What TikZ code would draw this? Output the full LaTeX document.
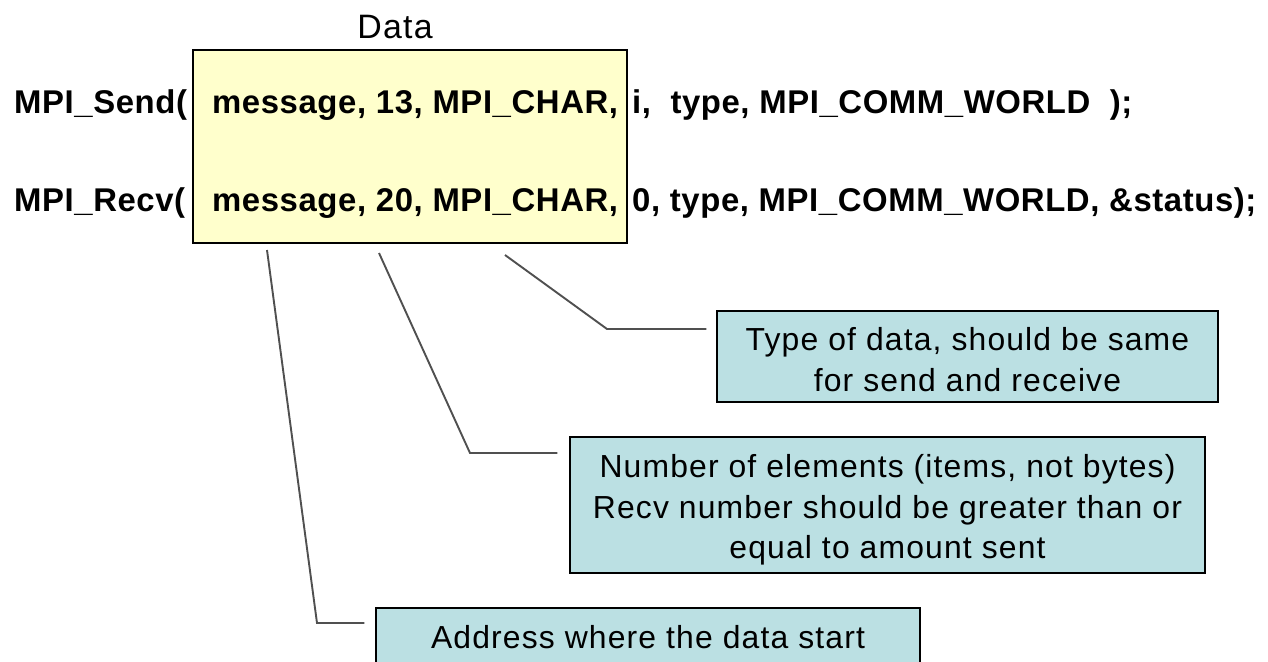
\documentclass[tikz,border=0pt]{standalone}
\usepackage{fontspec}
\setmainfont{Liberation Sans}
\newfontfamily\codefont[LetterSpace=1.8]{Liberation Sans}
\newfontfamily\notefont[LetterSpace=3.6]{Liberation Sans}
\definecolor{datafill}{HTML}{FFFFCC}
\definecolor{notefill}{HTML}{BBE0E3}
\definecolor{leader}{HTML}{505050}
\begin{document}
\begin{tikzpicture}[x=1bp,y=-1bp,
  code/.style={anchor=base west,inner sep=0pt,font=\codefont\fontsize{33}{40}\selectfont\bfseries},
  databox/.style={draw=black,line width=1.5bp,fill=datafill,inner sep=0pt},
  note/.style={draw=black,line width=1.5bp,fill=notefill,inner sep=0pt},
  notetext/.style={align=center,inner sep=0pt,font=\notefont\fontsize{32}{40.5}\selectfont},
  leadline/.style={draw=leader,line width=1.9bp}]
\useasboundingbox (0,0) rectangle (1268,662);

% highlighted data arguments
\node[databox,minimum width=434bp,minimum height=193bp] (box) at (410,146.5) {};
\node[anchor=base,inner sep=0pt,font=\notefont\fontsize{34}{40}\selectfont] (datalbl) at (395,39) {Data};

% send call
\node[code] (sendfn) at (14,114) {MPI\_Send(};
\node[code] (senddata) at (212,114) {message, 13, MPI\_CHAR,};
\node[code] (sendrest) at (632,114) {i,\ \ type, MPI\_COMM\_WORLD\ \ );};

% receive call
\node[code] (recvfn) at (14,212) {MPI\_Recv(};
\node[code] (recvdata) at (212,212) {message, 20, MPI\_CHAR,};
\node[code] (recvrest) at (632,212) {0, type, MPI\_COMM\_WORLD, \&status);};

% explanatory notes
\node[note,minimum width=501bp,minimum height=91bp] (typenote) at (967.5,356.5) {};
\node[notetext] (typetext) at ([yshift=-3bp]typenote.center)
  {Type of data, should be same\\for send and receive};
\node[note,minimum width=635bp,minimum height=136bp] (countnote) at (887.5,505) {};
\node[notetext] (counttext) at ([yshift=-5bp]countnote.center)
  {Number of elements (items, not bytes)\\Recv number should be greater than or\\equal to amount sent};
\node[note,anchor=north,minimum width=544bp,minimum height=100bp] (addrnote) at (648,607) {};
\node[notetext,anchor=base] (addrtext) at (648,648) {Address where the data start};

% leader lines from the data box to the notes
\coordinate (typefrom) at (505,255);
\coordinate (typebend) at (607,329);
\coordinate (typeto) at ([xshift=-10bp]typenote.west |- typebend);
\coordinate (countfrom) at (379,253);
\coordinate (countbend) at (470,453);
\coordinate (countto) at ([xshift=-12bp]countnote.west |- countbend);
\coordinate (addrfrom) at (267,250);
\coordinate (addrbend) at (317,623);
\coordinate (addrto) at ([xshift=-11bp]addrnote.west |- addrbend);

\draw[leadline] (typefrom) -- (typebend) -- (typeto);
\draw[leadline] (countfrom) -- (countbend) -- (countto);
\draw[leadline] (addrfrom) -- (addrbend) -- (addrto);
\end{tikzpicture}
\end{document}
